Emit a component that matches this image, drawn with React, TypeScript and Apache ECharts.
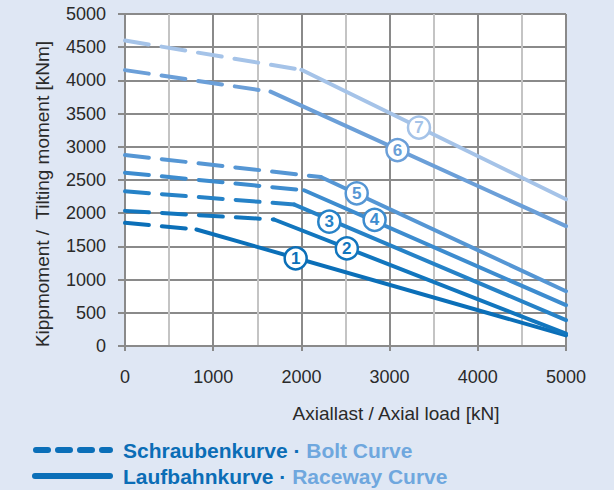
import React, { useEffect, useRef } from 'react';
import * as echarts from 'echarts';

const FONT = '"Liberation Sans", Arial, Helvetica, sans-serif';

// Axis ranges / ticks
const xTicks = [0, 1000, 2000, 3000, 4000, 5000];
const yMax = 5000;

// Curve numbers and colours (1 = darkest ... 7 = lightest)
const curveIds = ['1', '2', '3', '4', '5', '6', '7'];
const curveColors = ['#0b6fb8', '#1276be', '#2682c7', '#3d8ccf', '#5596d4', '#6b9fd8', '#a5c3e8'];

// Bolt curve (dashed) segments [axial load kN, tilting moment kNm]
const boltCurves: number[][][] = [
  [[0, 1855], [810, 1755]],
  [[0, 2035], [1690, 1905]],
  [[0, 2330], [1920, 2130]],
  [[0, 2610], [2030, 2345]],
  [[0, 2875], [2220, 2545]],
  [[0, 4155], [1650, 3830]],
  [[0, 4600], [2000, 4160]],
];

// Raceway curve (solid) segments
const racewayCurves: number[][][] = [
  [[810, 1755], [5000, 160]],
  [[1690, 1905], [5000, 185]],
  [[1920, 2130], [5000, 390]],
  [[2030, 2345], [5000, 615]],
  [[2220, 2545], [5000, 825]],
  [[1650, 3830], [5000, 1805]],
  [[2000, 4160], [5000, 2210]],
];

// Positions of the numbered circles
const labelPos: number[][] = [
  [1935, 1320], [2515, 1470], [2316, 1872], [2830, 1900], [2627, 2300], [3089, 2950], [3333, 3290],
];

const yTitle = 'Kippmoment /  Tilting moment [kNm]';
const xTitle = 'Axiallast / Axial load [kN]';
const legendRows = [
  { de: 'Schraubenkurve · ', en: 'Bolt Curve', dashed: true },
  { de: 'Laufbahnkurve · ', en: 'Raceway Curve', dashed: false },
];

export default function App() {
  const ref = useRef<HTMLDivElement>(null);
  useEffect(() => {
    const chart = echarts.init(ref.current!, null, { renderer: 'svg' });
    const grey = '#8a8a8a';
    const series: any[] = [];
    curveColors.forEach((c, i) => {
      series.push({
        type: 'line', data: boltCurves[i], symbol: 'none', silent: true, z: 2,
        lineStyle: { color: c, width: 4, type: [24, 13], cap: 'round' },
      });
      series.push({
        type: 'line', data: racewayCurves[i], symbol: 'none', silent: true, z: 2,
        lineStyle: { color: c, width: 4, cap: 'round' },
      });
    });
    series.push({
      type: 'scatter', symbol: 'circle', symbolSize: 22, silent: true, z: 5,
      data: labelPos.map((p, i) => ({
        value: p,
        itemStyle: { color: '#ffffff', borderColor: curveColors[i], borderWidth: 2.5, opacity: 1 },
        label: {
          show: true, position: 'inside', formatter: curveIds[i], color: curveColors[i],
          fontSize: 17, fontWeight: 'bold', fontFamily: FONT,
        },
      })),
    });

    const graphic: any[] = [
      {
        type: 'text', x: 42, y: 194, rotation: Math.PI / 2,
        style: { text: yTitle, fontSize: 19, fontFamily: FONT, fill: '#2a2a2a', align: 'center', verticalAlign: 'middle' },
      },
      {
        type: 'text', x: 396, y: 413,
        style: { text: xTitle, fontSize: 19, fontFamily: FONT, fill: '#2a2a2a', align: 'center', verticalAlign: 'middle' },
      },
    ];
    legendRows.forEach((r, i) => {
      const y = 450 + i * 26;
      graphic.push({
        type: 'line',
        shape: r.dashed ? { x1: 36, y1: y, x2: 110, y2: y } : { x1: 35, y1: y, x2: 110, y2: y },
        style: { stroke: '#0b6fb8', lineWidth: 6, lineCap: 'round', lineDash: r.dashed ? [12, 10] : null },
      });
      graphic.push({
        type: 'text', x: 123, y,
        style: {
          text: `{a|${r.de}}{b|${r.en}}`, verticalAlign: 'middle', align: 'left',
          rich: {
            a: { fontSize: 21, fontWeight: 'bold', fontFamily: FONT, fill: '#0b6db6', color: '#0b6db6' },
            b: { fontSize: 21, fontWeight: 'bold', fontFamily: FONT, fill: '#6fa7de', color: '#6fa7de' },
          },
        },
      });
    });

    const plain = (v: number) => String(v);

    chart.setOption({
      animation: false,
      backgroundColor: '#dfe7f4',
      grid: { left: 125, top: 14, right: 48, bottom: 144, show: true, backgroundColor: '#ffffff', borderWidth: 0 },
      xAxis: {
        type: 'value', min: xTicks[0], max: xTicks[xTicks.length - 1], interval: 1000,
        axisLine: { show: true, lineStyle: { color: grey, width: 2 } },
        axisTick: { show: true, length: 5, lineStyle: { color: grey, width: 2 } },
        axisLabel: { margin: 22, fontSize: 18, fontFamily: FONT, color: '#2a2a2a', formatter: plain },
        splitLine: { show: true, lineStyle: { color: grey, width: 2 } },
        minorTick: { show: false, splitNumber: 2 },
        minorSplitLine: { show: true, lineStyle: { color: '#c4c4c4', width: 2 } },
      },
      yAxis: {
        type: 'value', min: 0, max: yMax, interval: 500,
        axisLine: { show: true, lineStyle: { color: grey, width: 2 } },
        axisTick: { show: true, length: 7, lineStyle: { color: grey, width: 2 } },
        axisLabel: { margin: 19, fontSize: 18, fontFamily: FONT, color: '#2a2a2a', formatter: plain },
        splitLine: { show: true, lineStyle: { color: grey, width: 2 } },
      },
      series,
      graphic,
    });
    return () => chart.dispose();
  }, []);
  return <div ref={ref} style={{ position: 'fixed', left: 0, top: 0, width: 614, height: 490 }} />;
}
